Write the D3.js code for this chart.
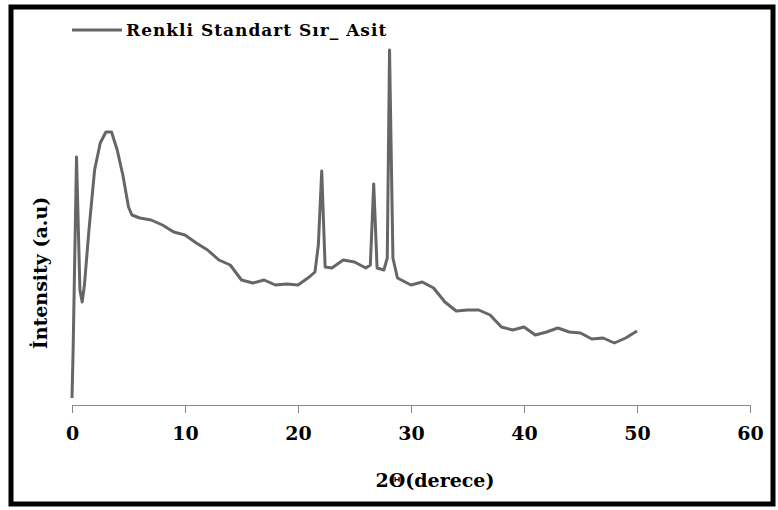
<!DOCTYPE html>
<html>
<head>
<meta charset="utf-8">
<script src="https://cdn.jsdelivr.net/npm/d3@7"></script>
<style>
  body { margin: 0; background: #fff; }
</style>
</head>
<body>
<div class="chart"></div>
<script>
// 2-theta (degrees) and relative intensity
const twoTheta = [0, 0.1, 0.4, 0.7, 0.9, 1.1, 1.5, 2, 2.5, 3, 3.5, 4, 4.5, 5, 5.3, 6, 7, 8, 9, 10,
  11, 12, 13, 14, 15, 16, 17, 18, 19, 20, 21, 21.5, 21.8, 22.1, 22.4, 23, 24, 25, 26, 26.4,
  26.7, 27, 27.6, 27.9, 28.1, 28.4, 28.8, 30, 31, 32, 33, 34, 35, 36, 37, 38, 39, 40, 41, 42,
  43, 44, 45, 46, 47, 48, 49, 50]
const intensity = [7, 55, 248, 115, 103, 120, 175, 235, 262, 273, 273, 255, 230, 198, 190, 187, 185, 180, 173, 170,
  162, 155, 145, 140, 125, 122, 125, 120, 121, 120, 128, 133, 160, 234, 138, 137, 145, 143, 137, 140,
  221, 137, 135, 147, 355, 147, 127, 120, 123, 117, 103, 94, 95, 95, 90, 78, 75, 78, 70, 73,
  77, 73, 72, 66, 67, 62, 67, 74]
const xTicks = [0, 10, 20, 30, 40, 50, 60]

const FONT = 'DejaVu Serif'
const W = 778, H = 510
const svg = d3.select('.chart').append('svg').attr('width', W).attr('height', H)
  .attr('font-family', FONT).attr('font-weight', 'bold')

// outer frame
svg.append('rect')
  .attr('x', 11).attr('y', 7).attr('width', 762).attr('height', 497)
  .attr('fill', 'none').attr('stroke', '#000').attr('stroke-width', 5)

const x = d3.scaleLinear().domain([0, 60]).range([72, 750])
const y = d3.scaleLinear().domain([0, 400]).range([405, 5])

svg.append('g')
  .attr('transform', 'translate(0,405)')
  .call(d3.axisBottom(x).tickValues(xTicks).tickSize(8).tickPadding(14).tickSizeOuter(0))
  .attr('font-family', FONT).attr('font-weight', 'bold')
  .call(g => g.select('.domain').attr('stroke', '#888'))
  .call(g => g.selectAll('.tick line').attr('stroke', '#888'))
  .call(g => g.selectAll('.tick text').attr('font-size', 19).attr('fill', '#000'))

svg.append('path')
  .datum(twoTheta.map((d, i) => [d, intensity[i]]))
  .attr('fill', 'none')
  .attr('stroke', '#666')
  .attr('stroke-width', 3)
  .attr('stroke-linejoin', 'round')
  .attr('d', d3.line().x(d => x(d[0])).y(d => y(d[1])))

// legend
svg.append('line').attr('x1', 72).attr('x2', 122).attr('y1', 30).attr('y2', 30)
  .attr('stroke', '#666').attr('stroke-width', 3)
svg.append('text').attr('x', 126).attr('y', 36).attr('font-size', 17)
  .attr('letter-spacing', 1).text('Renkli Standart Sır_ Asit')

// axis titles
svg.append('text').attr('x', 435).attr('y', 487).attr('text-anchor', 'middle')
  .attr('font-size', 19).text('2Θ(derece)')
svg.append('text').attr('transform', 'translate(47,273) rotate(-90)').attr('text-anchor', 'middle')
  .attr('font-size', 19).text('İntensity (a.u)')
</script>
</body>
</html>
